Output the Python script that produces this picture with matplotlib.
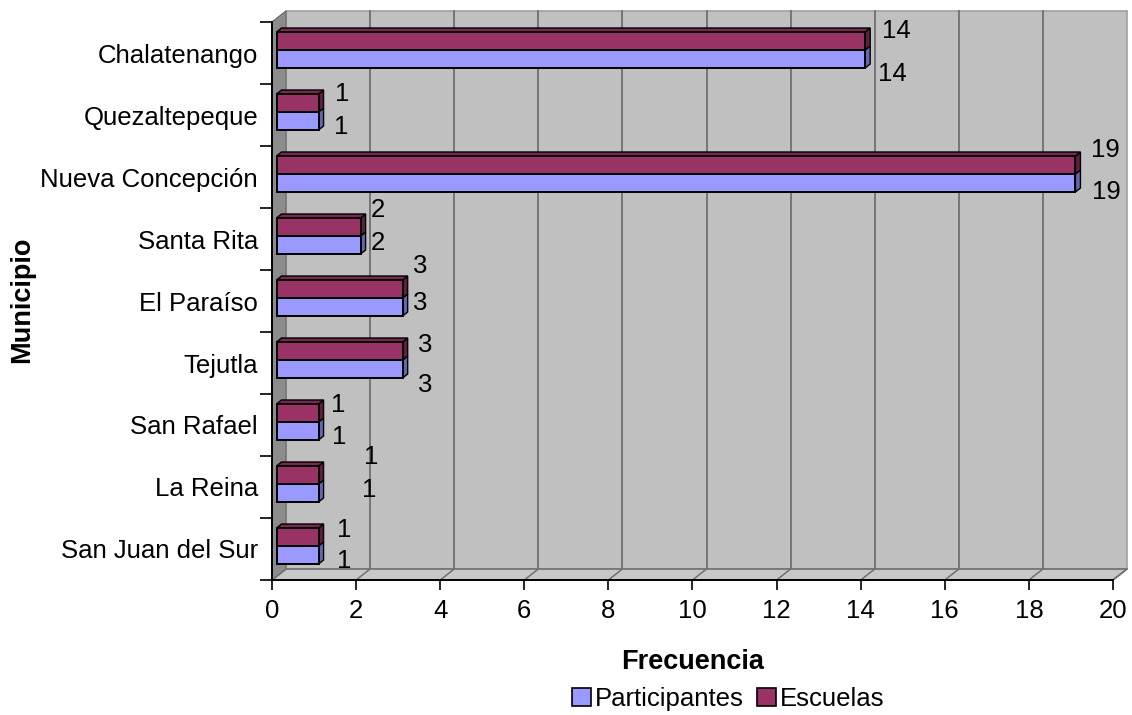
import matplotlib
matplotlib.use("Agg")
import matplotlib.pyplot as plt
from matplotlib.patches import Polygon, Patch

plt.rcParams['font.family'] = ['Liberation Sans', 'DejaVu Sans']

# data, listed bottom to top as drawn on the y axis
municipios = ["San Juan del Sur", "La Reina", "San Rafael", "Tejutla", "El Paraíso",
              "Santa Rita", "Nueva Concepción", "Quezaltepeque", "Chalatenango"]
participantes = [1, 1, 1, 3, 3, 2, 19, 1, 14]
escuelas = [1, 1, 1, 3, 3, 2, 19, 1, 14]

# label nudges in pixels (dx, dy up) for Escuelas / Participantes value labels
off_esc = [(26, 7), (53, 18), (20, 8), (23, 6), (18, 23), (17, 17), (30, 15), (24, 9), (31, 10)]
off_par = [(26, -6), (51, 3), (21, -6), (23, -16), (18, 4), (17, 2), (31, -9), (23, -6), (27, -15)]

c_par, c_par_side = "#9999FF", "#6666B0"
c_esc, c_esc_top, c_esc_side = "#993366", "#7A2852", "#5E1F40"
wall, wall_dark, grid_c = "#C0C0C0", "#8C8C8C", "#707070"
fs = 18.5

fig = plt.figure(figsize=(11.32, 7.15), dpi=100)
ax = fig.add_axes([272 / 1132, 135 / 715, 841 / 1132, 558 / 715])
xmax = 20
ax.set_xlim(0, xmax)
ax.set_ylim(-0.5, len(municipios) - 0.5)

# pixel -> data conversion
px_x = xmax / 841
px_y = len(municipios) / 558
ddx, ddy = 14 * px_x, 11 * px_y     # depth of the box
y0, y1 = -0.5, len(municipios) - 0.5

# back wall, floor and side wall of the 3-D box
ax.add_patch(Polygon([(ddx, y0 + ddy), (xmax + ddx, y0 + ddy), (xmax + ddx, y1 + ddy), (ddx, y1 + ddy)],
                     closed=True, fc=wall, ec="#A0A0A0", lw=1.2, clip_on=False, zorder=0))
ax.add_patch(Polygon([(0, y0), (xmax, y0), (xmax + ddx, y0 + ddy), (ddx, y0 + ddy)],
                     closed=True, fc="#C8C8C8", ec=grid_c, lw=1.2, clip_on=False, zorder=0.5))
ax.add_patch(Polygon([(0, y0), (ddx, y0 + ddy), (ddx, y1 + ddy), (0, y1)],
                     closed=True, fc=wall_dark, ec=grid_c, lw=1, clip_on=False, zorder=0.5))
for xv in range(2, xmax + 1, 2):
    if xv < xmax:
        ax.plot([xv + ddx, xv + ddx], [y0 + ddy, y1 + ddy], color=grid_c, lw=1.3, zorder=0.6, clip_on=False)
    ax.plot([xv, xv + ddx], [y0, y0 + ddy], color=grid_c, lw=1.1, zorder=0.6, clip_on=False)

# bars
bh = 18 * px_y
bx0 = 4.5 * px_x
by0 = 3 * px_y
sdx, sdy = 5 * px_x, 4 * px_y

ax.barh([i + by0 - bh / 2 for i in range(len(municipios))], participantes, height=bh, left=bx0,
        color=c_par, edgecolor="black", lw=1.4, zorder=2)
ax.barh([i + by0 + bh / 2 for i in range(len(municipios))], escuelas, height=bh, left=bx0,
        color=c_esc, edgecolor="black", lw=1.4, zorder=2)

for i in range(len(municipios)):
    pe = bx0 + participantes[i]
    ee = bx0 + escuelas[i]
    pb = i + by0 - bh
    mid = i + by0
    et = i + by0 + bh
    # side faces
    ax.add_patch(Polygon([(pe, pb), (pe + sdx, pb + sdy), (pe + sdx, mid + sdy), (pe, mid)],
                         closed=True, fc=c_par_side, ec="black", lw=1, zorder=1.9))
    ax.add_patch(Polygon([(ee, mid), (ee + sdx, mid + sdy), (ee + sdx, et + sdy), (ee, et)],
                         closed=True, fc=c_esc_side, ec="black", lw=1, zorder=1.9))
    # top face of the upper bar
    ax.add_patch(Polygon([(bx0, et), (ee, et), (ee + sdx, et + sdy), (bx0 + sdx, et + sdy)],
                         closed=True, fc=c_esc_top, ec="black", lw=1, zorder=1.9))
    # value labels
    ax.annotate(str(escuelas[i]), (ee, i + by0 + bh / 2), xytext=(off_esc[i][0] * 0.72, off_esc[i][1] * 0.72),
                textcoords="offset points", ha="center", va="center", fontsize=fs, zorder=3)
    ax.annotate(str(participantes[i]), (pe, i + by0 - bh / 2), xytext=(off_par[i][0] * 0.72, off_par[i][1] * 0.72),
                textcoords="offset points", ha="center", va="center", fontsize=fs, zorder=3)

# axes
for s in ["top", "right"]:
    ax.spines[s].set_visible(False)
for s in ["left", "bottom"]:
    ax.spines[s].set_linewidth(1.4)
    ax.spines[s].set_zorder(2.5)
ax.patch.set_visible(False)

ax.set_xticks(range(0, xmax + 1, 2))
ax.tick_params(axis="x", length=7, width=1.2, pad=6.5, labelsize=fs)
ax.set_yticks(range(len(municipios)))
ax.set_yticklabels(municipios)
ax.tick_params(axis="y", which="major", length=0, pad=10, labelsize=fs)
ax.set_yticks([k - 0.5 for k in range(len(municipios) + 1)], minor=True)
ax.tick_params(axis="y", which="minor", length=9, width=1.2)

fig.text(693 / 1132, 1 - 662 / 715, "Frecuencia", ha="center", va="center", fontsize=19.5, fontweight="bold")
fig.text(22 / 1132, 1 - 300 / 715, "Municipio", ha="center", va="center", rotation=90,
         fontsize=19.5, fontweight="bold")

handles = [Patch(fc=c_par, ec="black", lw=1.2, label="Participantes"),
           Patch(fc=c_esc, ec="black", lw=1.2, label="Escuelas")]
fig.legend(handles=handles, loc="center", bbox_to_anchor=(728 / 1132, 1 - 699 / 715), ncol=2,
           frameon=False, fontsize=fs, handlelength=0.75, handleheight=0.75, handletextpad=0.15,
           columnspacing=0.5, borderpad=0)

fig.savefig("out.png", dpi=100)
